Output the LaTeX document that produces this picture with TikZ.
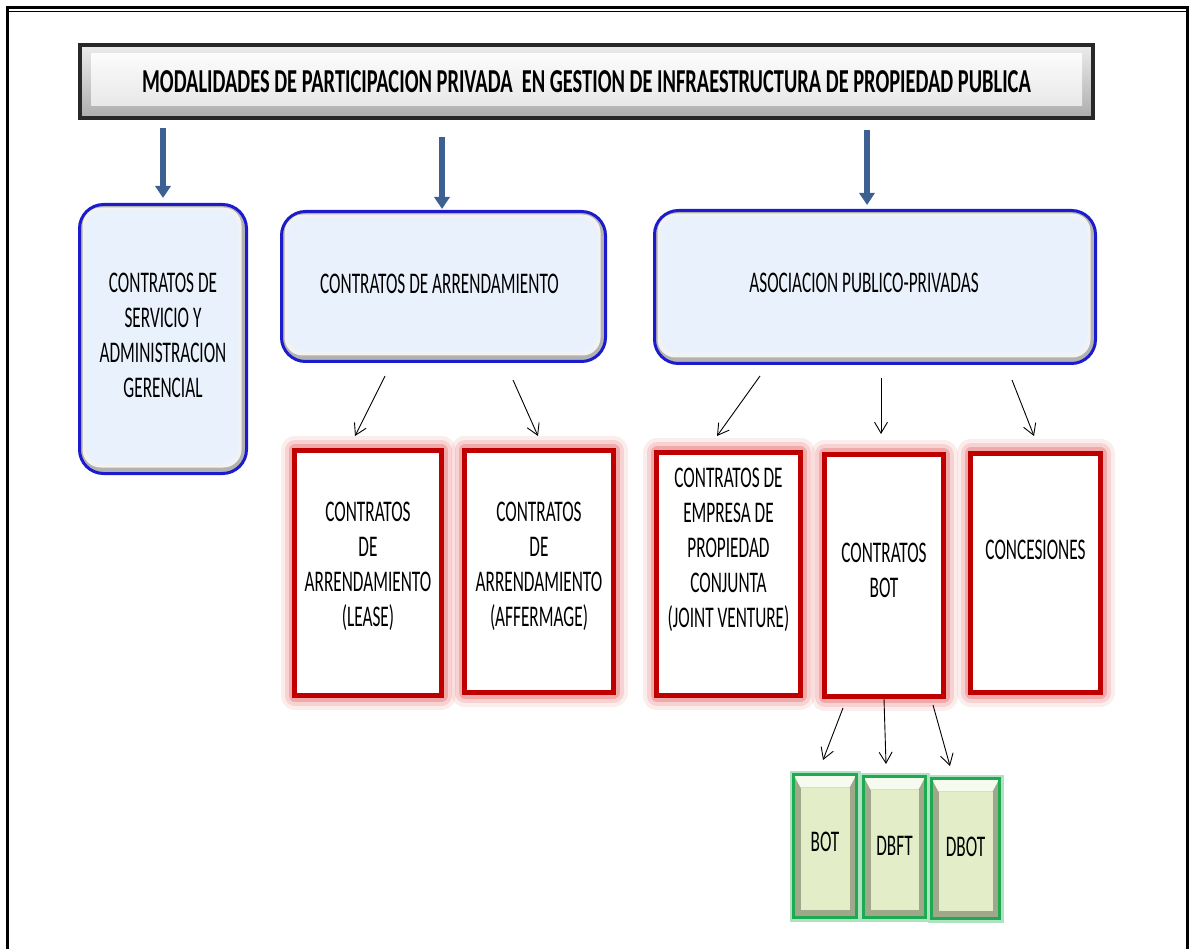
\documentclass[tikz,border=0pt]{standalone}
\usepackage{fontspec}
\usetikzlibrary{arrows.meta}
\newfontfamily\boxfont[FakeStretch=0.575]{Carlito}
\newfontfamily\titlefont[FakeStretch=0.61]{Carlito}

\definecolor{arrowblue}{RGB}{59,96,145}
\definecolor{boxblue}{RGB}{28,28,205}
\definecolor{boxfill}{RGB}{233,242,252}
\definecolor{boxred}{RGB}{192,0,0}
\definecolor{glowred}{RGB}{232,110,110}
\definecolor{boxgreen}{RGB}{30,170,80}
\definecolor{greenfill}{RGB}{227,238,201}

\tikzset{
  txt/.style={font=\boxfont\fontsize{30}{35}\selectfont, align=center},
  bigarrow/.style={arrowblue, line width=5.5pt, -{Triangle[width=15pt,length=12pt]}},
  thinarrow/.style={line width=0.9pt, -{Straight Barb[length=11pt,width=13pt]}},
  titlebox/.style={rectangle, draw={rgb,255:red,40;green,40;blue,40}, line width=4pt,
    top color=gray!15, bottom color=gray!65,
    font=\titlefont\bfseries\fontsize{33.5}{40}\selectfont,
    path picture={\shade[top color=white, bottom color=gray!22]
      ([shift={(11pt,-9pt)}]path picture bounding box.north west) rectangle
      ([shift={(-11pt,12pt)}]path picture bounding box.south east);}},
  bluebox/.style={rectangle, rounded corners=24pt, draw=boxblue, line width=3pt,
    fill=gray!60, txt,
    path picture={
      \fill[gray!10, rounded corners=18pt]
        ([shift={(3pt,-3pt)}]path picture bounding box.north west) rectangle
        ([shift={(-5pt,6pt)}]path picture bounding box.south east);
      \fill[boxfill, rounded corners=17pt]
        ([shift={(6pt,-6pt)}]path picture bounding box.north west) rectangle
        ([shift={(-8pt,10pt)}]path picture bounding box.south east);}},
  redbox/.style={rectangle, draw=boxred, line width=5pt, fill=white, txt,
    preaction={draw=glowred, line width=28pt, opacity=0.12, line join=round},
    preaction={draw=glowred, line width=20pt, opacity=0.22, line join=round},
    preaction={draw=glowred, line width=12pt, opacity=0.4, line join=round}},
  greenbox/.style={rectangle, draw=boxgreen, line width=3pt,
    fill={rgb,255:red,160;green,168;blue,140}, txt,
    preaction={draw=boxgreen!35, line width=8pt},
    path picture={
      \fill[white!70!greenfill]
        (path picture bounding box.north west) --
        (path picture bounding box.north east) --
        ([shift={(-7pt,-13pt)}]path picture bounding box.north east) --
        ([shift={(7pt,-13pt)}]path picture bounding box.north west) -- cycle;
      \fill[greenfill]
        ([shift={(7pt,-13pt)}]path picture bounding box.north west) rectangle
        ([shift={(-7pt,8pt)}]path picture bounding box.south east);}}
}

\begin{document}
\begin{tikzpicture}[x=1pt,y=-1pt]
  \useasboundingbox (0,0) rectangle (1189,949);
  % page frame
  \draw[line width=3pt] (7.5,949) -- (7.5,7.5) -- (1187.5,7.5) -- (1187.5,949);
  \draw[line width=1.3pt] (9,11.5) -- (1186,11.5);

  % heading
  \node[titlebox, minimum width=1013pt, minimum height=73pt] (title) at (586.5,81.5)
    {MODALIDADES DE PARTICIPACION PRIVADA\ \ EN GESTION DE INFRAESTRUCTURA DE PROPIEDAD PUBLICA};

  % first level
  \node[bluebox, minimum width=167pt, minimum height=269pt,
    label={[txt, name=servtext, yshift=4pt]center:CONTRATOS DE\\SERVICIO Y\\ADMINISTRACION\\GERENCIAL}]
    (servicio) at (163,339) {};
  \node[bluebox, minimum width=324pt, minimum height=150pt,
    label={[txt, name=arrtext, xshift=-4pt, yshift=3pt]center:CONTRATOS DE ARRENDAMIENTO}]
    (arrend) at (443.5,286.5) {};
  \node[bluebox, minimum width=441pt, minimum height=153pt,
    label={[txt, name=apptext, xshift=-11pt, yshift=4pt]center:ASOCIACION PUBLICO-PRIVADAS}]
    (app) at (875,287) {};

  \coordinate (t1) at (163,128);  \coordinate (h1) at (163,198);
  \coordinate (t2) at (442,137);  \coordinate (h2) at (442,209);
  \coordinate (t3) at (867,130);  \coordinate (h3) at (867,205);
  \draw[bigarrow] (t1) -- (h1);
  \draw[bigarrow] (t2) -- (h2);
  \draw[bigarrow] (t3) -- (h3);

  % second level
  \node[redbox, minimum width=147pt, minimum height=245pt,
    label={[txt, name=leasetext, yshift=7pt]center:CONTRATOS\\DE\\ARRENDAMIENTO\\(LEASE)}]
    (lease) at (368,573) {};
  \node[redbox, minimum width=149pt, minimum height=242pt,
    label={[txt, name=affermtext, yshift=5pt]center:CONTRATOS\\DE\\ARRENDAMIENTO\\(AFFERMAGE)}]
    (afferm) at (539,571.5) {};
  \node[redbox, minimum width=144pt, minimum height=243pt,
    label={[txt, name=jvtext, yshift=24pt]center:CONTRATOS DE\\EMPRESA DE\\PROPIEDAD\\CONJUNTA\\(JOINT VENTURE)}]
    (jv) at (728.5,574) {};
  \node[redbox, minimum width=119pt, minimum height=242pt,
    label={[txt, name=botctext, yshift=5pt]center:CONTRATOS\\BOT}]
    (botc) at (884,575.5) {};
  \node[redbox, minimum width=130pt, minimum height=239pt,
    label={[txt, name=conctext, yshift=23pt]center:CONCESIONES}]
    (conc) at (1035.5,573) {};

  \coordinate (la1) at (385,376);  \coordinate (la2) at (355,436);
  \coordinate (af1) at (513,380);  \coordinate (af2) at (538,436);
  \coordinate (jv1) at (760,376);  \coordinate (jv2) at (717,436);
  \coordinate (bc1) at (881,378);  \coordinate (bc2) at (881,434);
  \coordinate (co1) at (1012,380); \coordinate (co2) at (1034,436);
  \draw[thinarrow] (la1) -- (la2);
  \draw[thinarrow] (af1) -- (af2);
  \draw[thinarrow] (jv1) -- (jv2);
  \draw[thinarrow] (bc1) -- (bc2);
  \draw[thinarrow] (co1) -- (co2);

  % third level
  \node[greenbox, minimum width=63pt, minimum height=143pt] (bot) at (825,846) {\raisebox{8pt}{BOT}};
  \node[greenbox, minimum width=62pt, minimum height=141pt] (dbft) at (894.5,847) {\raisebox{3pt}{DBFT}};
  \node[greenbox, minimum width=68pt, minimum height=140pt] (dbot) at (965.5,848.5) {\raisebox{3pt}{DBOT}};

  \coordinate (b1) at (843,708);  \coordinate (b2) at (823,760);
  \coordinate (d1) at (884,699);  \coordinate (d2) at (886,764);
  \coordinate (e1) at (933,705);  \coordinate (e2) at (950,766);
  \draw[thinarrow] (b1) -- (b2);
  \draw[thinarrow] (d1) -- (d2);
  \draw[thinarrow] (e1) -- (e2);
\end{tikzpicture}
\end{document}
